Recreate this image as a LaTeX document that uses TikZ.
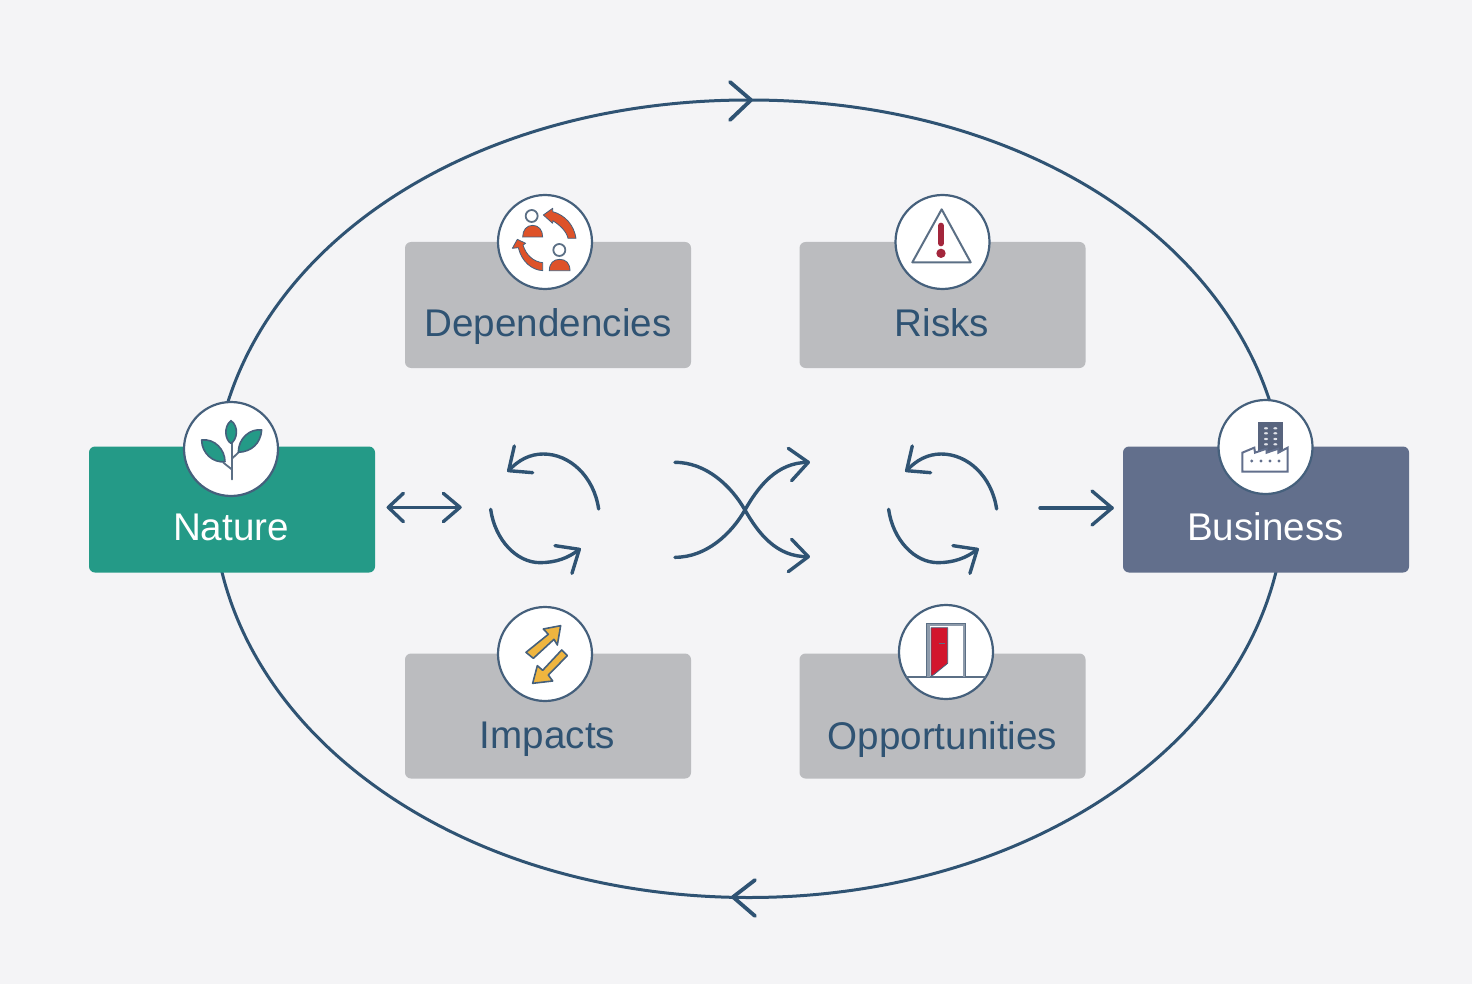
\documentclass[tikz,border=0pt]{standalone}
\usepackage{fontspec}
\setmainfont{Liberation Sans}
\definecolor{bgc}{HTML}{F4F4F6}
\definecolor{boxgray}{HTML}{BBBCBF}
\definecolor{tealc}{HTML}{249A87}
\definecolor{bizc}{HTML}{626F8C}
\definecolor{inkc}{HTML}{2F5373}
\definecolor{ringc}{HTML}{45607C}
\definecolor{orangec}{HTML}{DE5229}
\definecolor{warnc}{HTML}{A3263C}
\definecolor{doorc}{HTML}{D2152D}
\definecolor{yellowc}{HTML}{EFB53F}
\definecolor{iconline}{HTML}{5B6F85}
\definecolor{framec}{HTML}{8E9BAB}
\tikzset{
  gbox/.style={fill=boxgray,rounded corners=6pt,minimum width=286pt,minimum height=126pt,inner sep=0pt},
  cbox/.style={gbox,fill=#1},
  lab/.style={font=\fontsize{38.6}{38.6}\selectfont,text=inkc,inner sep=0pt,anchor=base},
  wlab/.style={lab,text=white},
  disc/.style={circle,fill=white,draw=ringc,line width=2.2pt,minimum size=94pt,inner sep=0pt},
  conn/.style={draw=inkc,line width=3.4pt,line cap=round,line join=round},
  zoomed/.style={x=0.3333pt,y=-0.3333pt},
  thin outline/.style={draw=ringc,line width=1.6pt,line join=round}
}
\begin{document}
\begin{tikzpicture}[x=1pt,y=-1pt]
\fill[bgc] (0,0) rectangle (1472,984);
\useasboundingbox (0,0) rectangle (1472,984);

% outer loop
\coordinate (ll) at (213,498);
\coordinate (lt) at (749,100);
\coordinate (lr) at (1285,498);
\coordinate (lb) at (749,897.5);
\draw[draw=inkc,line width=3pt] (ll) .. controls (213,278) and (440,100) .. (lt)
  .. controls (1060,100) and (1285,280) .. (lr)
  .. controls (1285,718) and (1050,897.5) .. (lb)
  .. controls (445,897.5) and (213,718) .. (ll) -- cycle;
\coordinate (tt) at (751,100); \coordinate (ta) at (730,82); \coordinate (tb) at (730,120);
\coordinate (bt) at (733,897); \coordinate (ba) at (755,880); \coordinate (bb) at (755,916);
\draw[conn,line width=3.8pt] (ta) -- (tt) -- (tb);
\draw[conn,line width=3.8pt] (ba) -- (bt) -- (bb);

% boxes
\node[gbox] (dep) at (548,305) {};
\node[gbox] (risk) at (942.5,305) {};
\node[gbox,minimum height=125pt] (imp) at (548,716) {};
\node[gbox,minimum height=125pt] (opp) at (942.5,716) {};
\node[cbox=tealc] (nat) at (232,509.5) {};
\node[cbox=bizc] (biz) at (1266,509.5) {};

% labels
\node[lab] (deplab) at (548,336) {Dependencies};
\node[lab] (risklab) at (942,336) {Risks};
\node[lab] (implab) at (547.5,748) {Impacts};
\node[lab] (opplab) at (942.5,749) {Opportunities};
\node[wlab] (natlab) at (231,540) {Nature};
\node[wlab] (bizlab) at (1265.5,540) {Business};

% discs
\node[disc] (depd) at (545,242) {};
\node[disc] (riskd) at (942.5,242) {};
\node[disc] (impd) at (545,654) {};
\node[disc] (oppd) at (946,652) {};
\node[disc] (natd) at (231,449) {};
\node[disc] (bizd) at (1265.5,447) {};

% central arrows
\begin{scope}[shift={(370,430)},zoomed]
  \coordinate (dl) at (55,232); \coordinate (dr) at (270,232);
  \draw[conn] (dl) -- (dr);
  \draw[conn] (100,190) -- (dl) -- (100,275);
  \draw[conn] (220,190) -- (dr) -- (220,275);
  \foreach \dx in {0,1194}{
    \begin{scope}[shift={(\dx,0)}]
      \draw[conn] (686,237) .. controls (672,140) and (600,72) .. (520,72) .. controls (480,72) and (445,90) .. (416,122);
      \draw[conn] (433,48) -- (416,122) -- (488,128);
      \draw[conn] (362,238) .. controls (375,330) and (440,398) .. (510,398) .. controls (555,398) and (595,385) .. (628,358);
      \draw[conn] (555,347) -- (628,358) -- (606,430);
    \end{scope}
  }
  \draw[conn] (915,97) .. controls (1010,97) and (1085,170) .. (1125,240) .. controls (1165,310) and (1220,382) .. (1315,380);
  \draw[conn] (915,382) .. controls (1010,382) and (1085,310) .. (1125,240) .. controls (1165,170) and (1220,97) .. (1315,97);
  \draw[conn] (1255,55) -- (1315,97) -- (1265,152);
  \draw[conn] (1265,328) -- (1315,380) -- (1255,425);
\end{scope}
\coordinate (ra) at (1040,508); \coordinate (rb) at (1112,508);
\draw[conn] (ra) -- (rb);
\draw[conn] (1092,491) -- (rb) -- (1092,525);

% dependencies icon
\begin{scope}[shift={(480,180)},zoomed]
  \draw[iconline,line width=1.8pt,fill=white] (155,108) circle [radius=18];
  \draw[iconline,line width=1.8pt,fill=white] (238,210) circle [radius=18];
  \fill[orangec,draw=ringc,line width=.8pt] (128,171) .. controls (128,150) and (140,136) .. (158,136) .. controls (176,136) and (188,150) .. (188,171) -- cycle;
  \fill[orangec,draw=ringc,line width=.8pt] (208,272) .. controls (208,250) and (220,238) .. (239,238) .. controls (258,238) and (270,250) .. (270,272) -- cycle;
  \fill[orangec,draw=ringc,line width=.8pt,line join=round] (288,175) -- (264,175) .. controls (260,155) and (240,135) .. (218,122) -- (218,130) -- (190,105) -- (218,85) -- (218,95) .. controls (255,105) and (282,135) .. (288,175) -- cycle;
  \fill[orangec,draw=ringc,line width=.8pt,line join=round] (188,272) .. controls (155,270) and (125,245) .. (115,203) -- (97,205) -- (112,178) -- (137,190) -- (129,195) .. controls (138,225) and (160,245) .. (188,248) -- cycle;
\end{scope}

% risks icon
\begin{scope}[shift={(880,180)},zoomed]
  \draw[iconline,line width=2pt,line join=round] (185,88) -- (97,247) -- (272,247) -- cycle;
  \draw[warnc,line width=6pt,line cap=round] (183,137) -- (183,190);
  \fill[warnc] (183,220) circle [radius=14];
\end{scope}

% impacts icon
\begin{scope}[shift={(480,595)},zoomed]
  \draw[thin outline,fill=yellowc] (242,92) -- (190,102) -- (205,118) -- (138,172) -- (160,190) -- (222,133) -- (232,150) -- cycle;
  \draw[thin outline,fill=yellowc] (158,265) -- (172,212) -- (188,226) -- (245,165) -- (262,182) -- (205,240) -- (218,258) -- cycle;
\end{scope}

% opportunities icon
\begin{scope}[shift={(880,595)},zoomed]
  \draw[iconline,line width=1.2pt] (78,246) -- (318,246);
  \draw[framec,line width=2.8pt,line join=miter] (145,246) -- (145,90) -- (252,90) -- (252,246);
  \draw[iconline,line width=.7pt] (140,246) -- (140,85) -- (257,85) -- (257,246);
  \fill[doorc,draw=ringc,line width=.8pt,line join=round] (153,98) -- (203,98) -- (203,205) -- (160,240) -- (153,243) -- cycle;
  \draw[iconline,line width=1.2pt] (178,145) -- (195,145);
\end{scope}

% nature icon
\begin{scope}[shift={(170,390)},zoomed]
  \draw[iconline,line width=2pt,line cap=round] (185,268) -- (185,150);
  \draw[iconline,line width=1.8pt,line cap=round] (185,238) -- (160,218);
  \draw[iconline,line width=1.8pt,line cap=round] (187,205) -- (215,178);
  \draw[thin outline,fill=tealc] (183,92) .. controls (160,110) and (165,150) .. (183,160) .. controls (201,150) and (208,110) .. (183,92) -- cycle;
  \draw[thin outline,fill=tealc] (95,150) .. controls (95,190) and (130,220) .. (165,215) .. controls (165,180) and (135,145) .. (95,150) -- cycle;
  \draw[thin outline,fill=tealc] (275,120) .. controls (240,115) and (205,145) .. (205,187) .. controls (245,185) and (272,160) .. (275,120) -- cycle;
\end{scope}

% business icon
\begin{scope}[shift={(1200,390)},zoomed]
  \fill[bizc!90!black] (175,95) rectangle (250,182);
  \foreach \yy in {115,130,147,163}{
    \fill[white!80!bizc] (198,\yy) ellipse [x radius=6,y radius=3.5];
    \fill[white!80!bizc] (226,\yy) ellipse [x radius=6,y radius=3.5];
  }
  \draw[bizc,line width=2pt,fill=white,line join=miter] (127,245) -- (127,188) -- (163,173) -- (165,188) -- (200,176) -- (200,188) -- (235,176) -- (235,188) -- (263,173) -- (263,245) -- cycle;
  \foreach \xx in {155,183,210,237}{
    \fill[bizc] (\xx,213) circle [radius=5];
  }
\end{scope}
\end{tikzpicture}
\end{document}
